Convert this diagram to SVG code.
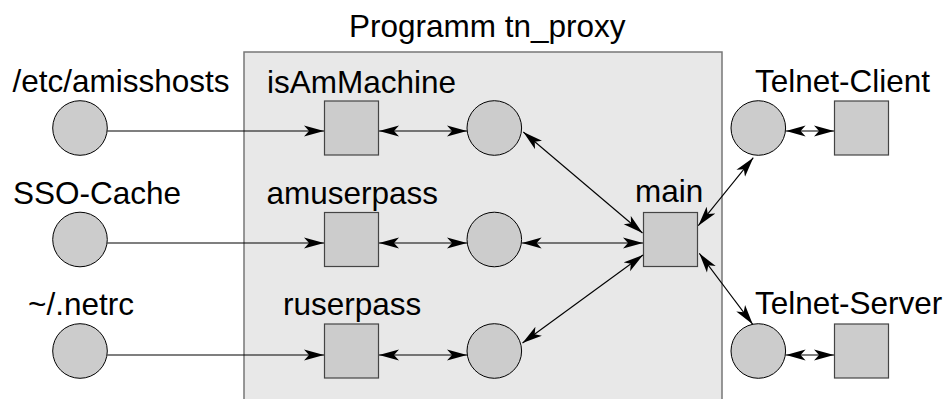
<svg xmlns="http://www.w3.org/2000/svg" width="952" height="399" viewBox="0 0 952 399">
  <style>
    .lbl { font-family: "Liberation Sans", Arial, sans-serif; font-size: 31.5px; fill: #000; }
    .place { fill: #cccccc; stroke: #000; stroke-width: 1; }
    .trans { fill: #cccccc; stroke: #444; stroke-width: 1.2; }
    .edge { fill: none; stroke: #000; stroke-width: 1.1; }
  </style>
  <defs>
    <marker id="arr" viewBox="0 0 20 12" refX="20" refY="6" markerWidth="20" markerHeight="12" markerUnits="userSpaceOnUse" orient="auto-start-reverse">
      <path d="M20,6 L0,0.5 L5,6 L0,11.5 Z" fill="#000"/>
    </marker>
  </defs>

  <!-- program boundary -->
  <g id="program">
    <rect x="244" y="52" width="478" height="360" fill="#e8e8e8" stroke="#777" stroke-width="1.5"/>
    <text class="lbl" x="349" y="37">Programm tn_proxy</text>
  </g>

  <!-- external resources -->
  <g id="amisshosts">
    <circle class="place" cx="80" cy="128" r="27.3"/>
    <text class="lbl" x="12.5" y="92">/etc/amisshosts</text>
  </g>
  <g id="ssocache">
    <circle class="place" cx="80" cy="239.5" r="27.3"/>
    <text class="lbl" x="13" y="203.5">SSO-Cache</text>
  </g>
  <g id="netrc">
    <circle class="place" cx="80" cy="351" r="27.3"/>
    <text class="lbl" x="28" y="314.5">~/.netrc</text>
  </g>

  <!-- functions -->
  <g id="isAmMachine">
    <rect class="trans" x="324.5" y="101" width="54" height="54"/>
    <text class="lbl" x="267" y="92.5">isAmMachine</text>
  </g>
  <g id="amuserpass">
    <rect class="trans" x="324.5" y="212.5" width="54" height="54"/>
    <text class="lbl" x="266.5" y="203.5">amuserpass</text>
  </g>
  <g id="ruserpass">
    <rect class="trans" x="324.5" y="324" width="54" height="54"/>
    <text class="lbl" x="283" y="314.5">ruserpass</text>
  </g>

  <!-- internal places -->
  <g id="p1"><circle class="place" cx="494.3" cy="128" r="27.3"/></g>
  <g id="p2"><circle class="place" cx="494.3" cy="239.5" r="27.3"/></g>
  <g id="p3"><circle class="place" cx="494.3" cy="351" r="27.3"/></g>

  <g id="main">
    <rect class="trans" x="643.5" y="212.5" width="54" height="54"/>
    <text class="lbl" x="635" y="202">main</text>
  </g>

  <!-- telnet side -->
  <g id="telnetClient">
    <circle class="place" cx="758.3" cy="128" r="27.3"/>
    <rect class="trans" x="834.5" y="101" width="54" height="54"/>
    <text class="lbl" x="755" y="92">Telnet-Client</text>
  </g>
  <g id="telnetServer">
    <circle class="place" cx="758.3" cy="351" r="27.3"/>
    <rect class="trans" x="834.5" y="324" width="54" height="54"/>
    <text class="lbl" x="755" y="313.5">Telnet-Server</text>
  </g>

  <!-- connectors -->
  <g id="connectors">
    <line class="edge" x1="107.3" y1="131" x2="324" y2="131" marker-end="url(#arr)"/>
    <line class="edge" x1="107.3" y1="243" x2="324" y2="243" marker-end="url(#arr)"/>
    <line class="edge" x1="107.3" y1="355" x2="324" y2="355" marker-end="url(#arr)"/>

    <line class="edge" x1="379" y1="131" x2="467" y2="131" marker-start="url(#arr)" marker-end="url(#arr)"/>
    <line class="edge" x1="379" y1="243" x2="467" y2="243" marker-start="url(#arr)" marker-end="url(#arr)"/>
    <line class="edge" x1="379" y1="355" x2="467" y2="355" marker-start="url(#arr)" marker-end="url(#arr)"/>

    <line class="edge" x1="523.3" y1="132" x2="642.5" y2="233" marker-start="url(#arr)" marker-end="url(#arr)"/>
    <line class="edge" x1="521.6" y1="243" x2="643" y2="243" marker-start="url(#arr)" marker-end="url(#arr)"/>
    <line class="edge" x1="522.5" y1="343" x2="643" y2="255" marker-start="url(#arr)" marker-end="url(#arr)"/>

    <line class="edge" x1="698.3" y1="225.7" x2="753.3" y2="157.7" marker-start="url(#arr)" marker-end="url(#arr)"/>
    <line class="edge" x1="699.3" y1="253.3" x2="752.7" y2="324.3" marker-start="url(#arr)" marker-end="url(#arr)"/>

    <line class="edge" x1="785.6" y1="131" x2="834" y2="131" marker-start="url(#arr)" marker-end="url(#arr)"/>
    <line class="edge" x1="785.6" y1="355" x2="834" y2="355" marker-start="url(#arr)" marker-end="url(#arr)"/>
  </g>
</svg>
